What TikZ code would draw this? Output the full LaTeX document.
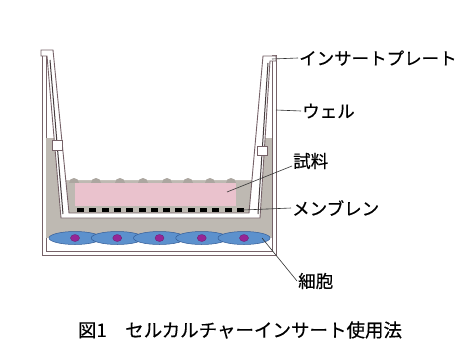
\documentclass[tikz,border=0pt]{standalone}
\usepackage{fontspec}
\usepackage{xcolor}
\usepackage{tikz}
\usetikzlibrary{shapes.geometric}
\newfontfamily\jpfont[FakeBold=0.4]{Noto Sans CJK JP}
\definecolor{cwall}{RGB}{118,98,104}
\definecolor{cshade}{RGB}{70,60,62}
\definecolor{cmedium}{RGB}{190,185,178}
\definecolor{cbump}{RGB}{172,166,160}
\definecolor{csample}{RGB}{234,194,205}
\definecolor{ccell}{RGB}{92,145,205}
\definecolor{ccelledge}{RGB}{52,92,150}
\definecolor{cnucleus}{RGB}{150,38,150}

\begin{document}
\begin{tikzpicture}[
  x=1pt, y=-1pt,
  font=\jpfont\fontsize{17.5}{20}\selectfont,
  wall/.style={draw=cwall, line width=0.9pt, fill=white},
  shade/.style={draw=cshade, line width=1pt},
  lbl/.style={anchor=west, inner sep=1pt},
  lead/.style={draw=black!80, line width=0.6pt},
  cell/.style={ellipse, draw=ccelledge, line width=0.5pt, fill=ccell, minimum width=52pt, minimum height=13pt, inner sep=0pt},
  nucleus/.style={ellipse, draw=cnucleus!70!black, line width=0.3pt, fill=cnucleus, minimum width=9pt, minimum height=7pt, inner sep=0pt}
]
\useasboundingbox (0,0) rectangle (462,350);
\fill[white] (0,0) rectangle (462,350);

% well
\draw[wall] (42,52) -- (42,255) -- (276,255) -- (276,55) -- (272,55) -- (272,251) -- (46,251) -- (46,52) -- cycle;

% medium, with the air inside the insert
\fill[cmedium] (46,138) rectangle (272,238);
\fill[white] (53,50) -- (65.8,180) -- (251.9,180) -- (263,56) -- cycle;
\foreach \x in {74,96,120,143,167,188,210,231}
  \fill[cbump] (\x,183) circle (5);
\fill[cmedium] (66,183) rectangle (251,207);

% sample on the membrane
\node[fill=csample, minimum width=161pt, minimum height=23pt, inner sep=0pt, anchor=north west] (sample) at (75,183) {};
\foreach \i in {0,...,13}
  \fill[black] ({77+12.3*\i},207.5) rectangle ++(7,4.5);

% insert
\draw[wall] (41,50) -- (53,50) -- (69,213) -- (249,213) -- (263,56) -- (276,56) -- (276,61) -- (270,61)
  -- (260,218) -- (61,218) -- (47,56) -- (41,56) -- cycle;
\draw[shade] (50,60) -- (63,214);
\draw[shade] (268,63) -- (258,214);
\draw[wall] (52,140) rectangle (62,150);
\draw[wall] (257,146) rectangle (267,155);

% cells on the well bottom
\foreach \i in {1,...,5} {
  \node[cell] (cell\i) at ({75+42.25*(\i-1)},238) {};
  \node[nucleus] (nuc\i) at (cell\i.center) {};
}

% labels
\node[lbl] (lplate) at (298,58) {インサートプレート};
\node[lbl] (lwell) at (301,111) {ウェル};
\node[lbl] (lsample) at (292,161) {試料};
\node[lbl] (lmemb) at (291,208) {メンブレン};
\node[lbl] (lcell) at (297,281) {細胞};

\coordinate (pplate) at (272,59);
\coordinate (pwell) at (276,110);
\coordinate (psample) at (227,192);
\coordinate (pmemb) at (243,210);
\coordinate (pcell) at (262,238);
\draw[lead] (pplate) -- (lplate.west);
\draw[lead] (pwell) -- (lwell.west);
\draw[lead] (psample) -- ([yshift=-5pt]lsample.west);
\draw[lead] (pmemb) -- (lmemb.west);
\draw[lead] (pcell) -- (lcell.west);

\node[font=\jpfont\fontsize{18.5}{21}\selectfont] (caption) at (240,330) {図1　セルカルチャーインサート使用法};
\end{tikzpicture}
\end{document}
